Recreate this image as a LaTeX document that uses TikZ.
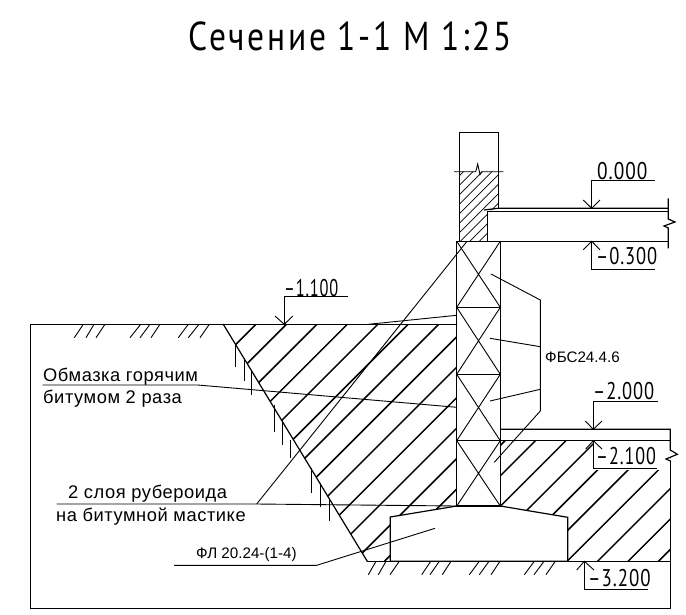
\documentclass[tikz,border=0pt]{standalone}
\usepackage{fontspec}
\usepackage{tkz-euclide}
\setmainfont{Liberation Sans}
\newfontfamily\isofont[LetterSpace=5]{PT Sans}
\newfontfamily\titlefont[LetterSpace=8]{PT Sans}
\newfontfamily\notefont[LetterSpace=3]{Liberation Sans}
\tikzset{
	contour/.style={line width=1.2pt,line join=miter},
	thinline/.style={line width=0.9pt},
	hatchline/.style={line width=1.5pt},
	brickline/.style={line width=0.7pt},
	isolabel/.style={inner sep=0pt,anchor=base west,font=\isofont\fontsize{21}{21}\selectfont},
	notelabel/.style={inner sep=0pt,anchor=base west,font=\notefont\fontsize{18.3}{18.3}\selectfont},
	marklabel/.style={inner sep=0pt,anchor=base west,font=\fontsize{15.2}{15.2}\selectfont}
}

\begin{document}
\begin{tikzpicture}[x=1pt,y=-1pt]
	\useasboundingbox (0,0) rectangle (686,614);

	\node[inner sep=0pt,font=\titlefont\fontsize{36}{36}\selectfont] (title) at (350,36) {\scalebox{0.93}[1.12]{Сечение 1-1 М 1:25}};

	% ground outline
	\tkzDefPoint(30.3,324.3){G1}
	\tkzDefPoint(456.7,324.3){G2}
	\tkzDefPoint(30.3,608.3){G3}
	\tkzDefPoint(670.3,608.3){G4}
	\tkzDefPoint(670.3,461){G5}
	\tkzDefPoint(670.3,450){G6}
	\tkzDefPoint(670.3,429.3){G7}
	\tkzDefPoint(500.3,429.3){G8}
	\tkzDefPoint(500.3,440.7){G9}
	\tkzDefPoint(670.3,440.7){G10}
	\tkzDefPoint(223.3,324.3){P1}
	\tkzDefPoint(367.3,561.3){P2}
	\tkzDefPoint(670.3,561.3){P3}

	% footing
	\tkzDefPoint(456.7,506){F1}
	\tkzDefPoint(500.3,506){F2}
	\tkzDefPoint(567.7,517.3){F3}
	\tkzDefPoint(567.7,561.3){F4}
	\tkzDefPoint(390.3,561.3){F5}
	\tkzDefPoint(390.3,517){F6}

	% fill hatching of the backfill
	\begin{scope}
		\clip (P1) -- (G2) -- (F1) -- (F6) -- (F5) -- (P2) -- cycle
			(G9) -- (G10) -- (P3) -- (F4) -- (F3) -- (F2) -- cycle;
		\foreach \k in {0,...,21}
			\draw[hatchline] ({580.3+30.45*\k-250},250) -- ({580.3+30.45*\k-650},650);
	\end{scope}
	\fill[white] (593.3,441.3) rectangle (669.7,470);

	\tkzDrawPolySeg[contour](G2,G1,G3,G4,G5)
	\draw[contour] (G5) -- (666,459) -- (677.3,454.3) -- (G6) -- (G7) -- (G8);
	\tkzDrawSegments[contour](G9,G10 P1,P2 P2,P3)
	\tkzDrawPolygon[contour](F1,F2,F3,F4,F5,F6)

	% ground ticks
	\foreach \xa/\xb in {83.3/74.3,94/86,105/96,140.7/130,150/140,160/151,188.3/178.3,199/188.3,209.3/200}
		\draw[thinline] (\xa,324.3) -- (\xb,337.7);
	\foreach \xa/\xb in {376/368.3,386/378.3,399.3/390,430.7/421.7,439.3/430,451/442.3,479.3/469.3,489/479.3,500/491,534.3/524.3,544/534,555.3/546}
		\draw[thinline] (\xa,561.3) -- (\xb,574.7);
	\foreach \xa/\ya/\yb in {235.3/344/367.3,244/358.3/381,251/371/394.7,274/405/431.7,282/420/445,290/440/458.3,311.7/468.3/492.7,320/483/506.7,329/498.3/520.7}
		\draw[thinline] (\xa,\ya) -- (\xa,\yb);

	% blocks
	\foreach \ya/\yb in {241.3/307.3,307.3/374.3,374.3/440.7,440.7/506}{
		\draw[contour] (456.7,\ya) rectangle (500.3,\yb);
		\draw[thinline] (456.7,\ya) -- (500.3,\yb) (500.3,\ya) -- (456.7,\yb);
	}

	% wall
	\tkzDefPoint(459.3,171.7){W1}
	\tkzDefPoint(498.3,171.7){W2}
	\tkzDefPoint(498.3,208.3){W3}
	\tkzDefPoint(487.3,211.3){W4}
	\tkzDefPoint(487.3,241.3){W5}
	\tkzDefPoint(459.3,241.3){W6}
	\begin{scope}
		\clip (W1) -- (W2) -- (W3) -- (W4) -- (W5) -- (W6) -- cycle;
		\foreach \k in {0,...,11}
			\draw[brickline] ({635+9.5*\k-100},100) -- ({635+9.5*\k-300},300);
	\end{scope}
	\draw[contour] (W6) -- (W1) -- (459.3,132.3) -- (498.3,132.3) -- (W2) -- (W3);
	\draw[thinline] (454,171.7) -- (475.7,171.7) -- (477.7,164) -- (480,174.5) -- (481.7,171.7) -- (503.3,171.7);

	% slab
	\tkzDefPoint(668.3,208.3){S1}
	\tkzDefPoint(668.3,211.3){S2}
	\tkzDefPoint(668.3,241.3){S3}
	\draw[contour] (W5) -- (W4) -- (S2);
	\draw[contour] (484,210) -- (W3) -- (S1);
	\draw[contour] (W5) -- (S3);
	\draw[contour] (668.3,198.3) -- (668.3,219) -- (675,222) -- (664,226) -- (668.3,228) -- (668.3,248.3);

	% leaders
	\tkzDefPoint(256.7,504){L1}
	\draw[thinline] (56.7,504) -- (L1) -- (F1);
	\draw[thinline] (L1) -- (466.7,241.7);
	\draw[thinline] (42.7,385) -- (197.7,385) -- (456.7,407.3);
	\draw[thinline] (368.3,324.3) -- (456.7,315.3);
	\draw[thinline] (174,565.3) -- (316.7,565.3) -- (435,528.3);
	\draw[thinline] (491,274) -- (540.3,300) -- (540.3,411) -- (494.3,462.3);
	\draw[thinline] (490,338.3) -- (540.3,346.7);
	\draw[thinline] (490,401) -- (540.3,389.3);

	% level marks
	\draw[thinline] (655,180.3) -- (591.7,180.3) -- (591.7,208.3);
	\draw[thinline] (583.3,200) -- (591.7,208.3) -- (600,200);
	\draw[thinline] (655,269.3) -- (591.7,269.3) -- (591.7,241.3);
	\draw[thinline] (583.3,249.7) -- (591.7,241.3) -- (600,249.7);
	\draw[thinline] (347.7,296.3) -- (284.3,296.3) -- (284.3,324.3);
	\draw[thinline] (275,316) -- (284.3,324.3) -- (292.7,316);
	\draw[thinline] (657.7,401) -- (593.3,401) -- (593.3,429.3);
	\draw[thinline] (585.3,421) -- (593.3,429.3) -- (602,421);
	\draw[thinline] (656.7,468.3) -- (593.3,468.3) -- (593.3,440.7);
	\draw[thinline] (585.7,449) -- (593.3,440.7) -- (602,449);
	\draw[thinline] (648.3,589.3) -- (584.3,589.3) -- (584.3,561.3);
	\draw[thinline] (576.7,570) -- (584.3,561.3) -- (594,570);

	\node[isolabel] (level0) at (597,179) {\scalebox{0.92}[1.15]{0.000}};
	\node[isolabel] (level1) at (596,264) {\scalebox{0.88}[1.15]{–0.300}};
	\node[isolabel] (level2) at (284,296) {\scalebox{0.78}[1.15]{–1.100}};
	\node[isolabel] (level3) at (593,399) {\scalebox{0.88}[1.15]{–2.000}};
	\node[isolabel] (level4) at (596,464) {\scalebox{0.86}[1.15]{–2.100}};
	\node[isolabel] (level5) at (588,586) {\scalebox{0.9}[1.15]{–3.200}};

	\node[notelabel] (coat1) at (43,381) {Обмазка горячим};
	\node[notelabel] (coat2) at (43,403) {битумом 2 раза};
	\node[notelabel] (felt1) at (68,498) {2 слоя рубероида};
	\node[notelabel] (felt2) at (56,521) {на битумной мастике};
	\node[marklabel] (footing) at (196,558) {ФЛ 20.24-(1-4)};
	\node[marklabel] (block) at (545,362) {ФБС24.4.6};
\end{tikzpicture}
\end{document}
